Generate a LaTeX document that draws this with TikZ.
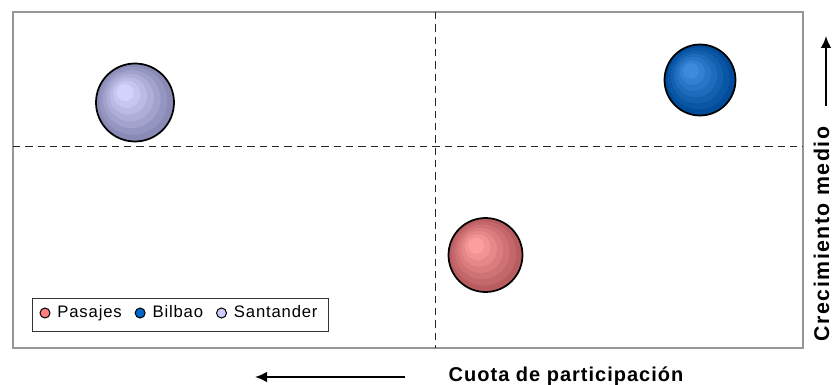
\documentclass[tikz,border=0pt]{standalone}
\usepackage{fontspec}
\setmainfont{Liberation Sans}
\usetikzlibrary{positioning,arrows.meta}

\definecolor{pasajes}{RGB}{255,128,128}
\definecolor{pasajeshi}{RGB}{252,158,158}
\definecolor{pasajeslo}{RGB}{185,92,96}
\definecolor{bilbao}{RGB}{0,102,204}
\definecolor{bilbaohi}{RGB}{60,138,220}
\definecolor{bilbaolo}{RGB}{0,76,155}
\definecolor{santander}{RGB}{204,204,255}
\definecolor{santanderhi}{RGB}{210,210,252}
\definecolor{santanderlo}{RGB}{138,138,182}
\definecolor{framegray}{RGB}{150,150,150}

\begin{document}
\begin{tikzpicture}[x=0.75pt,y=-0.75pt,
    plotframe/.style={draw=framegray, line width=1.5pt},
    quadrant/.style={draw=black!85, line width=0.75pt, dash pattern=on 5.5pt off 3.75pt},
    bubble/.style={circle, draw=black, line width=1.3pt, inner sep=0pt},
    marker/.style={circle, draw=black, line width=0.75pt, inner sep=0pt, minimum size=7.5pt},
    legtext/.style={inner sep=0pt, text height=0.9em, text depth=0.18em,
        font=\fontsize{12.5}{14}\selectfont\addfontfeature{LetterSpace=5}},
    axislabel/.style={font=\fontsize{15}{17}\selectfont\bfseries\addfontfeature{LetterSpace=5}},
    axisarrow/.style={-{Latex[length=9pt,width=8pt]}, line width=1.5pt}]
    \useasboundingbox (0,0) rectangle (832,385);

    % frame and quadrants
    \draw[plotframe] (13,12) rectangle (803,348);
    \coordinate (qtop) at (435,12);
    \coordinate (qbot) at (435,348);
    \coordinate (qleft) at (13,146);
    \coordinate (qright) at (803,146);
    \draw[quadrant] (qtop) -- (qbot);
    \draw[quadrant] (qleft) -- (qright);

    % bubbles
    \foreach \nm/\cx/\cy/\r/\ci/\co in {santander/135/102.5/39/santanderhi/santanderlo,
        bilbao/700/80/35.5/bilbaohi/bilbaolo,
        pasajes/485.5/255/37/pasajeshi/pasajeslo}{
      \foreach \i in {0,...,6}{
        \pgfmathsetmacro\rr{\r*(1-0.78*\i/6)}
        \pgfmathsetmacro\dd{\r*0.36*\i/6}
        \pgfmathtruncatemacro\pp{100*\i/6}
        \fill[\ci!\pp!\co] (\cx-0.7*\dd,\cy-0.7*\dd) circle[radius=\rr];
      }
      \node[bubble, minimum size=1.5*\r pt] (\nm) at (\cx,\cy) {};
    }

    % legend
    \node[draw=black!80, line width=0.75pt, minimum width=222pt, minimum height=24.75pt, inner sep=0pt] (legend) at (180,314.5) {};
    \node[marker, fill=pasajes] (mpas) at (45,313) {};
    \node[legtext, right=5pt of mpas] (tpas) {Pasajes};
    \node[marker, fill=bilbao, right=9.5pt of tpas] (mbil) {};
    \node[legtext, right=5pt of mbil] (tbil) {Bilbao};
    \node[marker, fill=santander, right=9.5pt of tbil] (msan) {};
    \node[legtext, right=5pt of msan] (tsan) {Santander};

    % axis labels
    \node[axislabel, anchor=base west] (xlabel) at (444,381) {Cuota de participación};
    \coordinate (xfrom) at (405,377);
    \coordinate (xto) at (255,377);
    \draw[axisarrow] (xfrom) -- (xto);
    \node[axislabel, font=\fontsize{16}{18}\selectfont\bfseries\addfontfeature{LetterSpace=7},
        rotate=90, anchor=base, inner sep=0pt] (ylabel) at (829,234) {Crecimiento medio};
    \coordinate (yfrom) at (826,106);
    \coordinate (yto) at (826,36);
    \draw[axisarrow] (yfrom) -- (yto);
\end{tikzpicture}
\end{document}
